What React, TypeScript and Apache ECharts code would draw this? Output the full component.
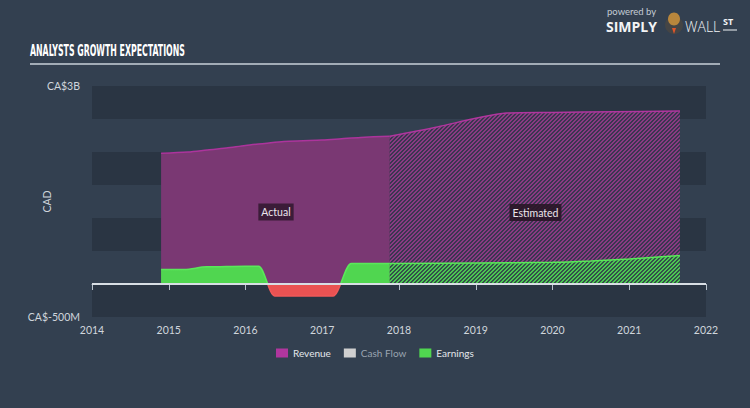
import React, { useEffect, useRef } from "react";
import * as echarts from "echarts";

const revenueActualX = [2014.9, 2015.25, 2015.5, 2015.75, 2016.0, 2016.25, 2016.5, 2016.75, 2017.0, 2017.25, 2017.5, 2017.88];
const revenueActual = [1.98, 2.0, 2.03, 2.06, 2.1, 2.13, 2.16, 2.17, 2.18, 2.2, 2.22, 2.24];
const revenueEstX = [2017.88, 2018.5, 2019.0, 2019.4, 2020.0, 2020.8, 2021.66];
const revenueEst = [2.24, 2.38, 2.51, 2.59, 2.6, 2.61, 2.62];
const earningsActualX = [2014.9, 2015.2, 2015.5, 2016.0, 2016.17, 2016.38, 2017.14, 2017.38, 2017.88];
const earningsActual = [0.22, 0.22, 0.26, 0.27, 0.27, -0.18, -0.18, 0.31, 0.31];
const earningsEstX = [2017.88, 2019.0, 2020.0, 2020.5, 2021.0, 2021.66];
const earningsEst = [0.31, 0.32, 0.33, 0.35, 0.38, 0.43];
const yearTicks = [2014, 2015, 2016, 2017, 2018, 2019, 2020, 2021, 2022];
const legendNames = ["Revenue", "Cash Flow", "Earnings"];

const zip = (xs: number[], ys: number[]) => xs.map((x, i) => [x, ys[i]]);

function hatchPattern(base: string, dark: string) {
  const c = document.createElement("canvas");
  c.width = 4;
  c.height = 4;
  const ctx = c.getContext("2d")!;
  ctx.fillStyle = base;
  ctx.fillRect(0, 0, 4, 4);
  ctx.fillStyle = dark;
  for (let x = 0; x < 4; x++) {
    for (let y = 0; y < 4; y++) {
      if ((x + y) % 4 < 2) ctx.fillRect(x, y, 1, 1);
    }
  }
  return { image: c, repeat: "repeat" };
}

export default function App() {
  const ref = useRef<HTMLDivElement>(null);
  useEffect(() => {
    document.body.style.margin = "0";
    const chart = echarts.init(ref.current!, undefined, { renderer: "svg" });
    const font = "Lato";
    const eMax = Math.max(...earningsActual);
    const eMin = Math.min(...earningsActual);
    const zeroOff = eMax / (eMax - eMin);
    const splitGrad = (pos: string, neg: string) =>
      new echarts.graphic.LinearGradient(0, 0, 0, 1, [
        { offset: 0, color: pos },
        { offset: zeroOff, color: pos },
        { offset: zeroOff, color: neg },
        { offset: 1, color: neg },
      ]);
    chart.setOption({
      animation: false,
      backgroundColor: "#334050",
      grid: { left: 92, right: 44, top: 86, bottom: 91 },
      legend: {
        data: [
          { name: legendNames[0] },
          { name: legendNames[1], textStyle: { color: "#9aa4b0" } },
          { name: legendNames[2] },
        ],
        bottom: 45,
        left: 271,
        icon: "rect",
        itemWidth: 12,
        itemHeight: 9,
        itemGap: 13,
        selectedMode: false,
        textStyle: { color: "#e4e8ec", fontSize: 10, fontFamily: font },
      },
      xAxis: {
        type: "value",
        min: yearTicks[0],
        max: yearTicks[yearTicks.length - 1],
        interval: 1,
        axisLine: { lineStyle: { color: "#b8c2cc", width: 1 } },
        axisTick: { show: true, length: 6, lineStyle: { color: "#b8c2cc" } },
        axisLabel: { color: "#d0d6dc", fontSize: 10.5, fontFamily: font, margin: 7, formatter: (v: number) => String(v) },
        splitLine: { show: false },
      },
      yAxis: {
        type: "value",
        min: -0.5,
        max: 3,
        interval: 0.5,
        name: "CAD",
        nameLocation: "middle",
        nameRotate: 90,
        nameGap: 40,
        nameMoveOverlap: false,
        nameTextStyle: { color: "#d0d6dc", fontSize: 10.5, fontFamily: font },
        axisLine: { show: false },
        axisTick: { show: false },
        splitLine: { show: false },
        splitArea: { show: true, areaStyle: { color: ["rgba(30,40,52,0.45)", "rgba(0,0,0,0)"] } },
        axisLabel: {
          color: "#d0d6dc",
          fontSize: 10.5,
          fontFamily: font,
          margin: 12,
          formatter: (v: number) => (v === 3 ? "CA$3B" : v === -0.5 ? "CA$-500M" : ""),
        },
      },
      series: [
        {
          name: "Revenue",
          type: "line",
          data: zip(revenueActualX, revenueActual),
          color: "#b0369e",
          symbol: "none",
          smooth: 0.3,
          lineStyle: { color: "#ac349c", width: 1.5 },
          areaStyle: { color: "#7a3873", opacity: 1 },
          z: 2,
        },
        {
          name: "Revenue",
          type: "line",
          data: zip(revenueEstX, revenueEst),
          color: "#b0369e",
          symbol: "none",
          smooth: 0.3,
          lineStyle: { color: "#b0369e", width: 1.5 },
          areaStyle: { color: hatchPattern("#8a3a82", "#3a3650"), opacity: 1 },
          z: 2,
        },
        {
          name: "Cash Flow",
          type: "line",
          data: [],
          color: "#d0d0d0",
        },
        {
          name: "Earnings",
          type: "line",
          data: zip(earningsActualX, earningsActual),
          color: "#50d650",
          symbol: "none",
          smooth: 0.35,
          smoothMonotone: "x",
          lineStyle: { width: 1.5, color: splitGrad("#5ae85a", "#f05858") },
          areaStyle: { opacity: 1, color: splitGrad("#50d650", "#ea5252") },
          z: 3,
        },
        {
          name: "Earnings",
          type: "line",
          data: zip(earningsEstX, earningsEst),
          color: "#50d650",
          symbol: "none",
          smooth: 0.3,
          lineStyle: { color: "#5ae85a", width: 1.5 },
          areaStyle: { color: hatchPattern("#4cc852", "#34504a"), opacity: 1 },
          z: 3,
        },
        {
          name: "zero",
          type: "line",
          data: zip(yearTicks, yearTicks.map(() => 0)),
          symbol: "none",
          lineStyle: { color: "#d8dee4", width: 2 },
          z: 5,
          silent: true,
        },
      ],
      graphic: [
        {
          type: "text",
          x: 30,
          y: 44,
          scaleX: 0.58,
          style: {
            text: "ANALYSTS GROWTH EXPECTATIONS",
            fill: "#ffffff",
            font: "bold 15px 'DejaVu Sans Condensed'",
          },
        },
        {
          type: "line",
          shape: { x1: 30, y1: 64, x2: 720, y2: 64 },
          style: { stroke: "#c8d0d8", lineWidth: 1.5 },
        },
        {
          type: "text",
          x: 607,
          y: 6,
          style: { text: "powered by", fill: "#c4ccd4", font: "9.5px Lato" },
        },
        {
          type: "text",
          x: 606,
          y: 19,
          style: { text: "SIMPLY", fill: "#f2f4f6", font: "bold 14px 'Open Sans'" },
        },
        {
          type: "circle",
          shape: { cx: 674, cy: 25, r: 9 },
          style: { fill: "#454545" },
        },
        {
          type: "ellipse",
          shape: { cx: 674, cy: 19, rx: 6, ry: 6.5 },
          style: { fill: "#b8863c" },
        },
        {
          type: "polygon",
          shape: { points: [[672, 28], [676, 28], [674, 34]] },
          style: { fill: "#e0552a" },
        },
        {
          type: "text",
          x: 685,
          y: 19,
          style: { text: "WALL", fill: "#f2f4f6", font: "300 14px 'Open Sans'" },
        },
        {
          type: "text",
          x: 723,
          y: 17,
          style: { text: "ST", fill: "#f2f4f6", font: "bold 9px 'Open Sans'" },
        },
        {
          type: "line",
          shape: { x1: 723, y1: 30, x2: 737, y2: 30 },
          style: { stroke: "#f2f4f6", lineWidth: 1 },
        },
        {
          type: "text",
          x: 276,
          y: 212,
          z: 10,
          style: {
            text: "Actual",
            fill: "#ece6ec",
            font: "10.5px Lato",
            align: "center",
            verticalAlign: "middle",
            backgroundColor: "rgba(48,24,46,0.85)",
            padding: [3, 3],
          },
        },
        {
          type: "text",
          x: 535.5,
          y: 212.5,
          z: 10,
          style: {
            text: "Estimated",
            fill: "#ece6ec",
            font: "10.5px Lato",
            align: "center",
            verticalAlign: "middle",
            backgroundColor: "rgba(40,22,38,0.9)",
            padding: [3, 3],
          },
        },
      ],
    });
    return () => chart.dispose();
  }, []);
  return <div ref={ref} style={{ width: 750, height: 408 }} />;
}
